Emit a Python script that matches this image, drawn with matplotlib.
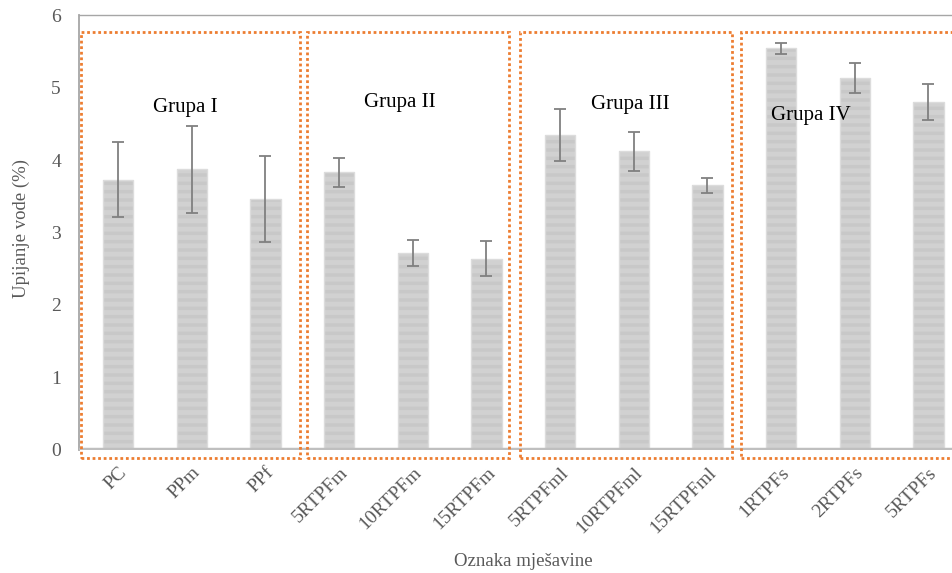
import numpy as np
import matplotlib.pyplot as plt
from matplotlib.patches import Rectangle

plt.rcParams['font.family'] = ['Liberation Serif', 'DejaVu Serif']
plt.rcParams['hatch.linewidth'] = 3.5

# upijanje vode po mješavini, srednja vrijednost i standardna devijacija
mjesavine = ['PC', 'PPm', 'PPf', '5RTPFm', '10RTPFm', '15RTPFm',
             '5RTPFml', '10RTPFml', '15RTPFml', '1RTPFs', '2RTPFs', '5RTPFs']
upijanje = [3.73, 3.87, 3.46, 3.83, 2.72, 2.64, 4.35, 4.12, 3.65, 5.54, 5.13, 4.80]
std_dev = [0.52, 0.60, 0.59, 0.20, 0.18, 0.24, 0.36, 0.27, 0.10, 0.075, 0.21, 0.25]
grupe = ['Grupa I', 'Grupa II', 'Grupa III', 'Grupa IV']

siva = '#595959'
narancasta = '#ED7D31'

fig = plt.figure(figsize=(9.52, 5.73), dpi=100)
ax = fig.add_axes([0.083, 0.2147, 0.917, 0.7591])

x = np.arange(len(mjesavine))
# stupci s blagom vodoravnom teksturom, pa svijetli rub preko njih
ax.bar(x, upijanje, width=0.41, color='#C8C8C8', edgecolor='#D1D1D1',
       linewidth=0, hatch='--', zorder=2)
ax.bar(x, upijanje, width=0.41, fill=False, edgecolor='#DCDCDC',
       linewidth=1.0, zorder=2)
ax.errorbar(x, upijanje, yerr=std_dev, fmt='none', ecolor='#808080',
            elinewidth=1.3, capsize=4.5, capthick=1.3, zorder=3)

ax.axhline(0, color='#BFBFBF', linewidth=3.2, zorder=4)

ax.set_xlim(-0.53, 11.32)
ax.set_ylim(0, 6)
ax.set_yticks(range(7))
ax.set_xticks(x)
ax.set_xticklabels(mjesavine, rotation=45, ha='right', va='top',
                   rotation_mode='anchor')
ax.tick_params(axis='both', length=0, labelsize=14, labelcolor=siva)
ax.tick_params(axis='y', pad=13)
ax.tick_params(axis='x', pad=10)

for side in ['bottom', 'right']:
    ax.spines[side].set_visible(False)
ax.spines['left'].set_color('#A6A6A6')
ax.spines['left'].set_linewidth(1.3)
ax.spines['top'].set_color('#A6A6A6')
ax.spines['top'].set_linewidth(1.0)

ax.set_xlabel('Oznaka mješavine', fontsize=13.5, color=siva)
ax.xaxis.set_label_coords(0.509, -0.237)
ax.set_ylabel('Upijanje vode (%)', fontsize=13.5, color=siva)
ax.yaxis.set_label_coords(-0.056, 0.51)

# okviri oko grupa
okviri = [(-0.50, 2.47), (2.57, 5.30), (5.46, 8.34), (8.45, 11.8)]
for (x0, x1) in okviri:
    ax.add_patch(Rectangle((x0, -0.11), x1 - x0, 5.88, fill=False,
                           edgecolor=narancasta, linewidth=2.0,
                           linestyle=(0, (1, 1)), clip_on=False, zorder=5))

natpisi = [(0.91, 4.73), (3.83, 4.79), (6.95, 4.76), (9.40, 4.62)]
for naziv, (tx, ty) in zip(grupe, natpisi):
    ax.text(tx, ty, naziv, fontsize=15, color='black',
            ha='center', va='center', zorder=6)

fig.savefig('out.png', dpi=100)
